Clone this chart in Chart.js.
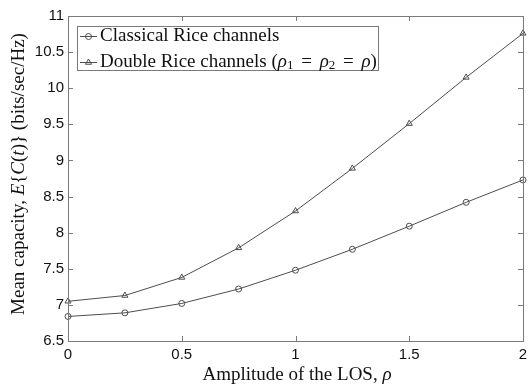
<!DOCTYPE html>
<html>
<head>
<meta charset="utf-8">
<script src="https://cdn.jsdelivr.net/npm/chart.js@4"></script>
<style>
  html, body { margin: 0; background: #fff; }
  #wrap { width: 529px; height: 385px; }
</style>
</head>
<body>
<div id="wrap"><canvas id="chart"></canvas></div>
<script>
// Data
const rho = [0, 0.25, 0.5, 0.75, 1, 1.25, 1.5, 1.75, 2];
const classicalRice = [6.84, 6.89, 7.02, 7.22, 7.48, 7.77, 8.09, 8.42, 8.73];
const doubleRice = [7.05, 7.13, 7.38, 7.79, 8.30, 8.89, 9.51, 10.15, 10.76];
const xTicks = [0, 0.5, 1, 1.5, 2];
const yTicks = [6.5, 7, 7.5, 8, 8.5, 9, 9.5, 10, 10.5, 11];

const lineColor = "#4d4d4d";
const frameColor = "#7a7a7a";
const serif = '"Liberation Serif", "DejaVu Serif", serif';
const fs = 19;

function toPoints(ys) {
    return rho.map((x, i) => ({ x: x, y: ys[i] }));
}

// draw text made of runs [text, style, size, dy, extra space after]
function drawRuns(ctx, runs, x, y, align) {
    let total = 0;
    runs.forEach(r => {
        ctx.font = r[1] + " " + r[2] + "px " + serif;
        total += ctx.measureText(r[0]).width + (r[4] || 0);
    });
    let cx = align === "center" ? x - total / 2 : x;
    ctx.textAlign = "left";
    ctx.textBaseline = "middle";
    runs.forEach(r => {
        ctx.font = r[1] + " " + r[2] + "px " + serif;
        ctx.fillText(r[0], cx, y + (r[3] || 0));
        cx += ctx.measureText(r[0]).width + (r[4] || 0);
    });
}

const framePlugin = {
    id: "frame",
    afterDraw(chart) {
        const ctx = chart.ctx;
        const a = chart.chartArea;
        const xs = chart.scales.x, ys = chart.scales.y;
        ctx.save();
        ctx.strokeStyle = frameColor;
        ctx.lineWidth = 1;
        ctx.strokeRect(Math.round(a.left) + 0.5, Math.round(a.top) + 0.5,
            Math.round(a.right - a.left), Math.round(a.bottom - a.top));
        ctx.beginPath();
        xTicks.forEach(v => {
            const px = Math.round(xs.getPixelForValue(v)) + 0.5;
            ctx.moveTo(px, a.bottom); ctx.lineTo(px, a.bottom - 5);
            ctx.moveTo(px, a.top); ctx.lineTo(px, a.top + 5);
        });
        yTicks.forEach(v => {
            const py = Math.round(ys.getPixelForValue(v)) + 0.5;
            ctx.moveTo(a.left, py); ctx.lineTo(a.left + 5, py);
            ctx.moveTo(a.right, py); ctx.lineTo(a.right - 5, py);
        });
        ctx.stroke();

        // axis titles
        ctx.fillStyle = "#111";
        drawRuns(ctx, [["Amplitude of the LOS, ", "", fs], ["\u03C1", "italic", fs]],
            297, 375, "center");
        ctx.save();
        ctx.translate(19, 174);
        ctx.rotate(-Math.PI / 2);
        drawRuns(ctx, [["Mean capacity, ", "", fs], ["E", "italic", fs], ["{", "", fs],
            ["C", "italic", fs], ["(", "", fs], ["t", "italic", fs], [")} (bits/sec/Hz)", "", fs]],
            0, 0, "center");
        ctx.restore();

        // legend
        const lx = 77, ly = 26, lw = 301, lh = 44;
        ctx.fillStyle = "#fff";
        ctx.fillRect(lx, ly, lw, lh);
        ctx.strokeStyle = frameColor;
        ctx.strokeRect(lx + 0.5, ly + 0.5, lw, lh);
        const rows = [
            { y: 36, style: "circle", runs: [["Classical Rice channels", "", fs]] },
            { y: 62, style: "triangle", runs: [["Double Rice channels (", "", fs],
                ["\u03C1", "italic", fs], ["1", "", 13, 4, 3], [" = ", "", fs, 0, 3],
                ["\u03C1", "italic", fs], ["2", "", 13, 4, 3], [" = ", "", fs, 0, 3],
                ["\u03C1", "italic", fs], [")", "", fs]] }
        ];
        rows.forEach(r => {
            ctx.strokeStyle = lineColor;
            ctx.beginPath();
            ctx.moveTo(80, r.y + 0.5); ctx.lineTo(97, r.y + 0.5);
            ctx.stroke();
            ctx.fillStyle = "rgba(0,0,0,0)";
            Chart.helpers.drawPoint(ctx, { pointStyle: r.style, radius: r.style === "circle" ? 3 : 3.5, borderWidth: 1 }, 88.5, r.y + 0.5);
            ctx.fillStyle = "#111";
            drawRuns(ctx, r.runs, 100, r.y, "left");
        });
        ctx.restore();
    }
};

const tickFont = { family: '"Liberation Sans", Arial, sans-serif', size: 15 };

new Chart(document.querySelector("#chart"), {
    type: "line",
    data: {
        datasets: [
            {
                label: "Classical Rice channels",
                data: toPoints(classicalRice),
                borderColor: lineColor,
                borderWidth: 1,
                pointStyle: "circle",
                pointRadius: 3,
                pointBorderColor: lineColor,
                pointBackgroundColor: "rgba(0,0,0,0)",
                pointBorderWidth: 1,
                tension: 0,
                clip: false
            },
            {
                label: "Double Rice channels",
                data: toPoints(doubleRice),
                borderColor: lineColor,
                borderWidth: 1,
                pointStyle: "triangle",
                pointRadius: 3.5,
                pointBorderColor: lineColor,
                pointBackgroundColor: "rgba(0,0,0,0)",
                pointBorderWidth: 1,
                tension: 0,
                clip: false
            }
        ]
    },
    options: {
        responsive: true,
        maintainAspectRatio: false,
        animation: false,
        layout: { padding: { top: 16, right: 6, left: 0, bottom: 0 } },
        plugins: { legend: { display: false }, tooltip: { enabled: false } },
        scales: {
            x: {
                type: "linear",
                min: 0, max: 2,
                afterBuildTicks: s => { s.ticks = xTicks.map(v => ({ value: v })); },
                afterFit: s => { s.height = 44; s.paddingRight = 0; s.paddingLeft = 0; },
                grid: { display: false, drawTicks: false },
                border: { display: false },
                ticks: { padding: 5, color: "#111", maxRotation: 0, font: tickFont,
                    callback: v => String(v) }
            },
            y: {
                min: 6.5, max: 11,
                afterBuildTicks: s => { s.ticks = yTicks.map(v => ({ value: v })); },
                afterFit: s => { s.width = 68; s.paddingTop = 0; s.paddingBottom = 0; },
                grid: { display: false, drawTicks: false },
                border: { display: false },
                ticks: { padding: 4, color: "#111", font: tickFont,
                    callback: v => String(v) }
            }
        }
    },
    plugins: [framePlugin]
});
</script>
</body>
</html>
